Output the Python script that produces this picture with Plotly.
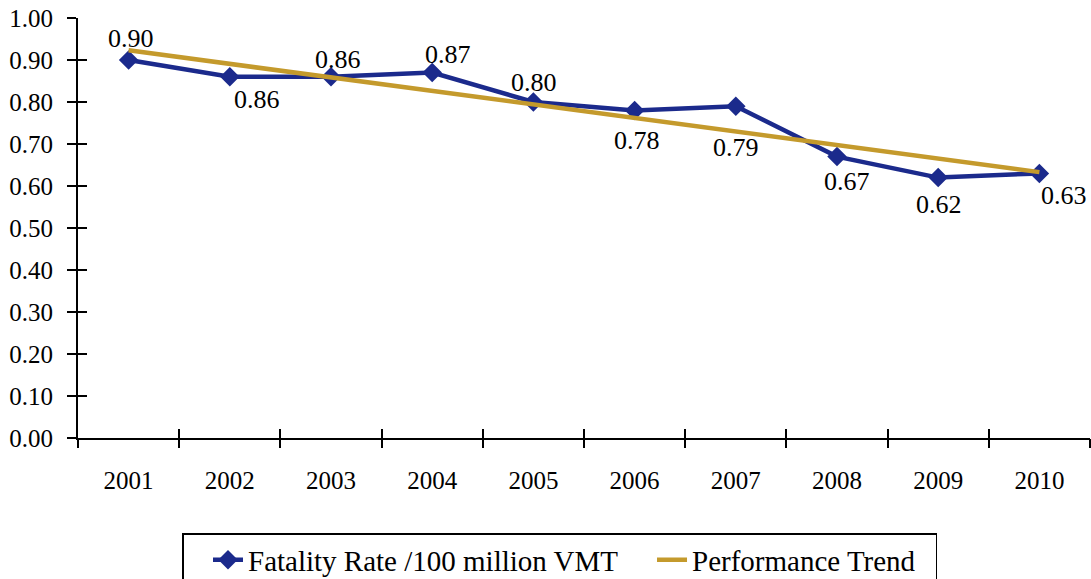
import plotly.graph_objects as go

years = [2001, 2002, 2003, 2004, 2005, 2006, 2007, 2008, 2009, 2010]
fatality_rate = [0.90, 0.86, 0.86, 0.87, 0.80, 0.78, 0.79, 0.67, 0.62, 0.63]
trend_years = [2001, 2010]
trend_values = [0.923, 0.633]
y_ticks = [0.0, 0.1, 0.2, 0.3, 0.4, 0.5, 0.6, 0.7, 0.8, 0.9, 1.0]
series_names = ["Fatality Rate /100 million VMT", "Performance Trend"]

# label offsets (pixels) for data labels
label_shift = [(2, 22), (27, -23), (7, 17), (16, 18), (1, 20),
               (2, -30), (0, -41), (10, -25), (1, -27), (25, -22)]

BLUE = "#1B2A8C"
GOLD = "#C49A2C"
FONT = "Liberation Serif"
FS = 25
NB = "\u00a0"

fig = go.Figure()
fig.add_trace(go.Scatter(
    x=years, y=fatality_rate, mode="lines+markers", name=series_names[0] + NB * 4,
    line=dict(color=BLUE, width=4.5),
    marker=dict(symbol="diamond", size=15, color=BLUE),
))
fig.add_trace(go.Scatter(
    x=trend_years, y=trend_values, mode="lines", name=series_names[1] + NB * 2,
    line=dict(color=GOLD, width=4.5),
))
# invisible helpers so the overlay tick axes are drawn
fig.add_trace(go.Scatter(x=[years[0]], y=[fatality_rate[0]], xaxis="x2", yaxis="y2",
                         mode="markers", marker=dict(opacity=0), showlegend=False,
                         hoverinfo="skip"))
fig.add_trace(go.Scatter(x=[years[0]], y=[fatality_rate[0]], xaxis="x3", yaxis="y",
                         mode="markers", marker=dict(opacity=0), showlegend=False,
                         hoverinfo="skip"))

for yr, v, (dx, dy) in zip(years, fatality_rate, label_shift):
    fig.add_annotation(x=yr, y=v, text=f"{v:.2f}", showarrow=False,
                       xshift=dx, yshift=dy,
                       font=dict(family=FONT, size=26, color="black"))

xr = [min(years) - 0.5, max(years) + 0.5]
bounds = [y - 0.5 for y in years] + [max(years) + 0.5]

tick_axis = dict(range=xr, overlaying="x", anchor="y", side="bottom",
                 tickmode="array", tickvals=bounds, ticklen=9, tickwidth=2,
                 tickcolor="black", showticklabels=False, showgrid=False,
                 zeroline=False, showline=False, automargin=False)

fig.update_layout(
    width=1091, height=579,
    margin=dict(l=78, r=1, t=18, b=141, autoexpand=False),
    paper_bgcolor="white", plot_bgcolor="white",
    font=dict(family=FONT, size=FS, color="black"),
    showlegend=True,
    legend=dict(orientation="h", xref="container", yref="container",
                x=182 / 1091, xanchor="left", y=1 - 533 / 579, yanchor="top",
                bordercolor="black", borderwidth=1.5, font=dict(size=29),
                title=dict(text=NB * 2, side="left", font=dict(size=29)),
                tracegroupgap=0),
    xaxis=dict(range=xr, tickmode="array", tickvals=years,
               ticktext=[str(y) for y in years], ticks="",
               showline=True, linecolor="black", linewidth=2,
               showgrid=False, zeroline=False, ticklabelstandoff=19,
               automargin=False),
    xaxis2=dict(tick_axis, ticks="outside"),
    xaxis3=dict(tick_axis, ticks="inside"),
    yaxis=dict(range=[0, 1.0], tickmode="array", tickvals=y_ticks,
               ticktext=[f"{t:.2f}" for t in y_ticks], ticks="outside",
               ticklen=9, tickwidth=2, tickcolor="black",
               showline=True, linecolor="black", linewidth=2,
               showgrid=False, zeroline=False, ticklabelstandoff=9,
               automargin=False),
    yaxis2=dict(range=[0, 1.0], overlaying="y", anchor="x", side="left",
                tickmode="array", tickvals=y_ticks, ticks="inside",
                ticklen=9, tickwidth=2, tickcolor="black",
                showticklabels=False, showgrid=False, zeroline=False,
                showline=False, automargin=False),
)

fig.write_html("out.html", config={"displayModeBar": False},
               post_script="document.body.style.margin='0';")
